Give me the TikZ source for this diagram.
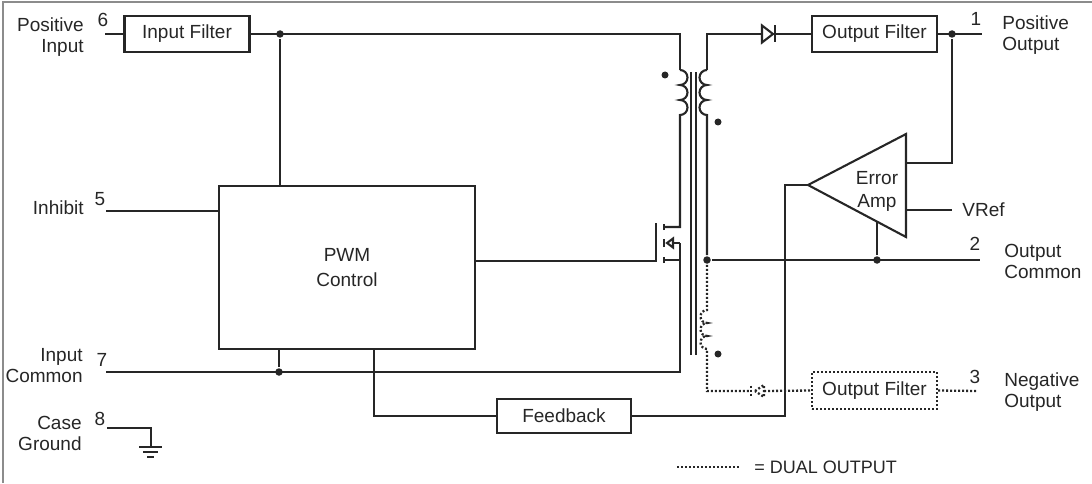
\documentclass[tikz,border=0pt]{standalone}
\usepackage{fontspec}
\setmainfont{Liberation Sans}
\usetikzlibrary{positioning, calc}

\begin{document}
\begin{tikzpicture}[x=1pt, y=1pt, line width=2.1pt, color=black!85,
  font=\fontsize{19}{21}\selectfont,
  blk/.style={draw, rectangle, minimum height=36pt, inner sep=0pt},
  jdot/.style={circle, fill, inner sep=0pt, minimum size=7.5pt},
  dual/.style={line width=2.3pt, dash pattern=on 2pt off 2pt}]
\useasboundingbox (0,0) rectangle (1092,483);
\draw [black!45, line width=1.5pt] (3,0) -- (3,481) -- (1092,481);

% blocks
\node [blk, minimum width=125pt] (inFilt) at (187,449) {Input Filter};
\node [blk, minimum width=256pt, minimum height=163pt, align=center, font=\fontsize{19}{25}\selectfont] (pwm) at (347,215.5) {PWM\\Control};
\node [blk, minimum width=134pt, minimum height=34pt] (fb) at (564,67) {Feedback};
\node [blk, minimum width=125pt] (outFilt) at (874.5,449) {Output Filter};
\node [blk, dual, minimum width=125pt, minimum height=37pt] (negFilt) at (874.5,92.5) {Output Filter};

% pins
\coordinate (p6) at (105,449);
\coordinate (p5) at (106,272);
\coordinate (p7) at (106,111);
\coordinate (p8) at (107,55);
\coordinate (p1) at (982,449);
\coordinate (p2) at (980,223);
\coordinate (p3) at (977,92);
\node at (103,463) {6};
\node at (100,284) {5};
\node at (102,123) {7};
\node at (100,64) {8};
\node at (976,464) {1};
\node at (975,239) {2};
\node at (975,106) {3};
\node [anchor=east, align=right] at (88,445.5) {Positive\\Input};
\node [anchor=east] at (88,275) {Inhibit};
\node [anchor=east, align=right] at (87,117) {Input\\Common};
\node [anchor=east, align=right] at (86,50) {Case\\Ground};
\node [anchor=west, align=left] at (998,447.5) {Positive\\Output};
\node [anchor=west, align=left] at (1000,222) {Output\\Common};
\node [anchor=west, align=left] at (1000,91) {Negative\\Output};

% junctions
\node [jdot] (j1) at (280,449) {};
\node [jdot] (j2) at (952,449) {};
\node [jdot] (j3) at (279,111) {};
\node [jdot] (j4) at (707,223) {};
\node [jdot] (j5) at (877,223) {};

% input side
\draw (p6) -- (inFilt.west);
\draw (inFilt.east) -- (680,449) -- (680,413);
\draw (j1) -- (j1 |- pwm.north);
\draw (p5) -- (p5 -| pwm.west);
\draw (p7) -- (680,111) -- (680,240);
\draw (j3) -- (j3 |- pwm.south);

% transformer
\draw (680,413) arc [start angle=90, end angle=-90, radius=7.5]
  arc [start angle=90, end angle=-90, radius=7.5]
  arc [start angle=90, end angle=-90, radius=7.5] -- (680,256) -- (664,256);
\draw (691,411) -- (691,128);
\draw (696,411) -- (696,128);
\draw (707,413) arc [start angle=90, end angle=270, radius=7.5]
  arc [start angle=90, end angle=270, radius=7.5]
  arc [start angle=90, end angle=270, radius=7.5] -- (j4);
\fill (665,408) circle (3.5);
\fill (718,361) circle (3.5);

% switch
\coordinate (gate) at (656,222);
\draw (pwm.east |- gate) -- (gate) -- (656,260);
\draw (664,253) -- (664,259);
\draw (664,236) -- (664,244);
\draw (664,220) -- (664,226);
\draw (664,223) -- (680,223);
\draw (673,240) -- (680,240);
\draw [line join=miter] (667,240) -- (673,244.5) -- (673,235.5) -- cycle;

% positive output
\draw (707,413) -- (707,449) -- (762,449);
\draw [line join=miter] (762,457.5) -- (773,449) -- (762,440.5) -- cycle;
\draw (775,457.5) -- (775,440.5);
\draw (775,449) -- (outFilt.west);
\draw (outFilt.east) -- (p1);

% error amp
\coordinate (ampA) at (808,298);
\coordinate (ampT) at (906,349);
\coordinate (ampB) at (906,246);
\draw [line join=miter] (ampA) -- (ampT) -- (ampB) -- cycle;
\node [align=center, font=\fontsize{19}{23}\selectfont] (ampTxt) at (877,291.5) {Error\\Amp};
\draw (j2) -- (952,320) -- (906,320);
\draw (906,273) -- (952,273);
\node [anchor=west] (vref) at (958,273) {VRef};
\draw (j4) -- (p2);
\draw (j5) -- (877,261.4);
\draw (ampA) -- (785,298) -- (785,67) -- (fb.east);
\draw (fb.west) -- (374,67) -- (374,0 |- pwm.south);

% negative output (dual)
\draw [dual] (j4) -- (707,173) arc [start angle=90, end angle=270, radius=6.5]
  arc [start angle=90, end angle=270, radius=6.5]
  arc [start angle=90, end angle=270, radius=6.5] -- (707,92) -- (751,92);
\fill (718,129) circle (3.5);
\draw [dual] (751,97.5) -- (751,86);
\draw [dual] (755,92) -- (764,98) -- (764,86) -- cycle;
\draw [dual] (764,92) -- (negFilt.west);
\draw [dual] (negFilt.east) -- (p3);

% case ground
\draw (p8) -- (151,55) -- (151,36);
\draw (139,36) -- (162,36);
\draw (143,31) -- (158,31);
\draw (147,26) -- (154,26);

% legend
\draw [dual] (677,16) -- (740,16);
\node [anchor=west, font=\fontsize{18}{20}\selectfont] at (750,16) {= DUAL OUTPUT};
\end{tikzpicture}
\end{document}
